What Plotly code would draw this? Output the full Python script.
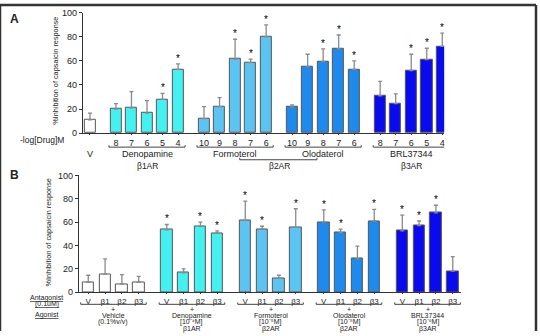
import plotly.graph_objects as go

FONT = "Liberation Sans"

# ---------------- Panel A data ----------------
a_groups = ["V", "Denopamine", "Formoterol", "Olodaterol", "BRL37344"]
a_doses = [[""], ["8", "7", "6", "5", "4"], ["10", "9", "8", "7", "6"],
           ["10", "9", "8", "7", "6"], ["8", "7", "6", "5", "4"]]
a_means = [[11], [20, 21, 16.5, 28, 53], [12, 22, 61.5, 58.5, 80],
           [21.5, 55.5, 59.5, 70, 53], [31, 24.5, 52, 61, 72]]
a_errs = [[5.5], [4.5, 13.5, 10.5, 5, 4.5], [10, 7.5, 16.5, 3, 10],
          [2, 10, 10.5, 11.5, 7], [12, 8, 13.5, 9.5, 11]]
a_sig = [[0], [0, 0, 0, 1, 1], [0, 0, 1, 1, 1], [0, 0, 1, 1, 1], [0, 0, 1, 1, 1]]
a_receptors = ["β1AR", "β2AR", "β3AR"]

# ---------------- Panel B data ----------------
b_antagonists = ["V", "β1", "β2", "β3"]
b_agonist_lines = [["Vehicle", "(0.1%v/v)"],
                   ["Denopamine", "[10⁻⁴M]", "β1AR"],
                   ["Formoterol", "[10⁻⁸M]", "β2AR"],
                   ["Olodaterol", "[10⁻⁸M]", "β2AR"],
                   ["BRL37344", "[10⁻⁶M]", "β3AR"]]
b_means = [[8.5, 15.5, 7, 8.5], [53.5, 16.5, 56.5, 50.5], [61.5, 54, 12, 55.5],
           [60, 51, 28.5, 61], [52.5, 57, 68, 18]]
b_errs = [[6, 13, 8, 5], [4.5, 3.5, 3.5, 2], [16.5, 2.5, 2.5, 16],
          [10.5, 3, 11, 10], [13.5, 4, 6.5, 12.5]]
b_sig = [[0, 0, 0, 0], [1, 0, 1, 1], [1, 1, 0, 1], [1, 1, 0, 1], [1, 1, 1, 0]]

colors = ["#FFFFFF", "#44F0F0", "#5CC4F2", "#1E8AEE", "#0A0AEE"]

W, H = 540, 336
def py(px):  # pixel y -> paper y
    return 1 - px / H
def pxx(px):
    return px / W

fig = go.Figure()
annotations = []
shapes = []

def star(x, y, xref, yref):
    annotations.append(dict(x=x, y=y, xref=xref, yref=yref, text="*",
                            showarrow=False, yanchor="bottom", xanchor="center",
                            font=dict(family=FONT, size=10, color="black"),
                            yshift=-2))

# ---------- Panel A ----------
GAP_A = 1.67
a_pos = []
start = 0.0
for g, doses in enumerate(a_doses):
    a_pos.append([start + i for i in range(len(doses))])
    start = a_pos[-1][-1] + GAP_A
tickv_a, tickt_a = [], []
for g in range(len(a_groups)):
    fig.add_trace(go.Bar(
        x=a_pos[g], y=a_means[g], width=0.72, xaxis="x", yaxis="y",
        marker=dict(color=colors[g], line=dict(color="#555", width=1)),
        error_y=dict(type="data", symmetric=False, array=a_errs[g],
                     arrayminus=[0] * len(a_errs[g]), color="#8a8a8a",
                     thickness=1.3, width=2),
        showlegend=False, hoverinfo="skip"))
    tickv_a += a_pos[g]
    tickt_a += a_doses[g]
    for p, m, e, s in zip(a_pos[g], a_means[g], a_errs[g], a_sig[g]):
        if s:
            star(p, m + e, "x", "y")

# ---------- Panel B ----------
GAP_B = 1.67
b_pos = []
start = 0.0
for g in range(len(b_means)):
    b_pos.append([start + i for i in range(4)])
    start = b_pos[-1][-1] + GAP_B
tickv_b, tickt_b = [], []
for g in range(len(b_means)):
    fig.add_trace(go.Bar(
        x=b_pos[g], y=b_means[g], width=0.68, xaxis="x2", yaxis="y2",
        marker=dict(color=colors[g], line=dict(color="#555", width=1)),
        error_y=dict(type="data", symmetric=False, array=b_errs[g],
                     arrayminus=[0] * 4, color="#8a8a8a", thickness=1.3, width=2),
        showlegend=False, hoverinfo="skip"))
    tickv_b += b_pos[g]
    tickt_b += b_antagonists
    for p, m, e, s in zip(b_pos[g], b_means[g], b_errs[g], b_sig[g]):
        if s:
            star(p, m + e, "x2", "y2")

# ---------- axes ----------
axis_common = dict(showgrid=False, zeroline=False, showline=True, linecolor="#333",
                   linewidth=1, ticks="outside", tickcolor="#333",
                   tickfont=dict(family=FONT, size=9, color="#222"))
fig.update_layout(
    xaxis=dict(domain=[pxx(83), pxx(445)], range=[-0.46, 22.8], anchor="y",
               tickvals=tickv_a, ticktext=tickt_a, ticklen=1, **axis_common),
    yaxis=dict(domain=[py(132), py(8)], range=[0, 100], anchor="x", ticklen=3,
               tickvals=[0, 20, 40, 60, 80, 100], **axis_common),
    xaxis2=dict(domain=[pxx(79), pxx(462)], range=[-0.56, 22.18], anchor="y2",
                tickvals=tickv_b, ticktext=tickt_b, ticklen=1, **axis_common),
    yaxis2=dict(domain=[py(296), py(175.7)], range=[0, 100], anchor="x2", ticklen=3,
                tickvals=[0, 20, 40, 60, 80, 100], **axis_common),
)
fig.update_layout(xaxis2_tickfont=dict(family=FONT, size=8, color="#222"))

def txt(x, y, text, size=8.5, xref="paper", xanchor="center", angle=0):
    annotations.append(dict(x=x, y=y, xref=xref, yref="paper", text=text,
                            showarrow=False, xanchor=xanchor, yanchor="middle",
                            textangle=angle,
                            font=dict(family=FONT, size=size, color="#222")))

def bracket(x0, x1, ypx, xref, up=2):
    shapes.append(dict(type="line", xref=xref, yref="paper", x0=x0, x1=x1,
                       y0=py(ypx), y1=py(ypx), line=dict(color="#444", width=1)))
    for xx in (x0, x1):
        shapes.append(dict(type="line", xref=xref, yref="paper", x0=xx, x1=xx,
                           y0=py(ypx), y1=py(ypx - up), line=dict(color="#444", width=1)))

# Panel A labels
txt(pxx(15), py(14), "<b>A</b>", size=12)
txt(pxx(56), py(68), "%Inhibition of capsaicin response", size=7.3, angle=-90)
txt(pxx(42), py(139.5), "-log[Drug]M", size=8.5)
txt(a_pos[0][0], py(153.5), "V", size=9, xref="x")
for g in range(1, 5):
    bracket(a_pos[g][0] - 0.45, a_pos[g][-1] + 0.45, 146.5, "x")
    mid = (a_pos[g][0] + a_pos[g][-1]) / 2
    txt(mid, py(153.5), a_groups[g], size=9, xref="x")
txt((a_pos[1][0] + a_pos[1][-1]) / 2, py(166), a_receptors[0], size=8.5, xref="x")
b2_mid = (a_pos[2][-1] + a_pos[3][0]) / 2
txt(b2_mid, py(166), a_receptors[1], size=8.5, xref="x")
bracket(a_pos[2][2] + 0.3, a_pos[3][1] + 0.6, 159.5, "x")
txt((a_pos[4][0] + a_pos[4][-1]) / 2, py(166), a_receptors[2], size=8.5, xref="x")

# Panel B labels
txt(pxx(15), py(175), "<b>B</b>", size=12)
txt(pxx(48.5), py(234), "%Inhibition of capsaicin response", size=7.3, angle=-90)
txt(pxx(47), py(302), "<u>Antagonist</u>", size=7)
txt(pxx(47), py(308), "<u>(0.1uM)</u>", size=7)
txt(pxx(47), py(320), "<u>Agonist</u>", size=7)
for g in range(5):
    bracket(b_pos[g][0] - 0.45, b_pos[g][-1] + 0.45, 308.5, "x2")
    mid = (b_pos[g][0] + b_pos[g][-1]) / 2
    txt(mid, py(313.5), "+", size=7, xref="x2")
    for k, line in enumerate(b_agonist_lines[g]):
        txt(mid, py(320.5 + 6.6 * k), line, size=7, xref="x2")

# Border
for (x0, y0, x1, y1) in [(0, 1, pxx(537), 1), (0, 0, 0, 1), (pxx(537), 0, pxx(537), 1)]:
    shapes.append(dict(type="line", xref="paper", yref="paper", x0=x0, y0=y0,
                       x1=x1, y1=y1, line=dict(color="#333", width=2.5)))

fig.update_layout(width=W, height=H, margin=dict(l=0, r=0, t=0, b=0),
                  paper_bgcolor="white", plot_bgcolor="white",
                  annotations=annotations, shapes=shapes, bargap=0,
                  font=dict(family=FONT, color="#222"))
fig.write_html("out.html")
